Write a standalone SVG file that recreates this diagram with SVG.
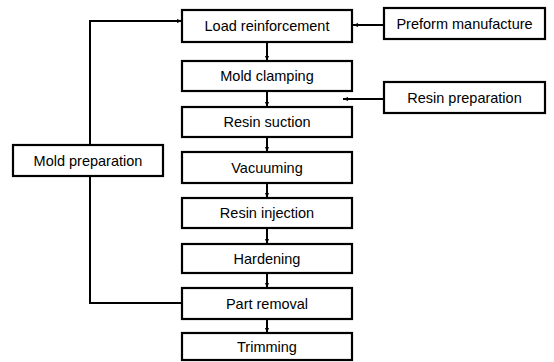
<svg xmlns="http://www.w3.org/2000/svg" width="554" height="362" viewBox="0 0 554 362">
<defs>
<marker id="ah" viewBox="0 0 10 10" refX="10" refY="5" markerWidth="5" markerHeight="5" orient="auto" markerUnits="userSpaceOnUse">
<path d="M0,1 L10,5 L0,9 Z" fill="#000"/>
</marker>
<style>
.box{fill:#fff;stroke:#000;stroke-width:2.2}
.lbl{font-family:"Liberation Sans",Arial,sans-serif;font-size:14.5px;fill:#000;text-anchor:middle;dominant-baseline:central}
.con{fill:none;stroke:#000;stroke-width:2}
</style>
</defs>
<rect width="554" height="362" fill="#fff"/>
<g id="connectors">
<path class="con" d="M267,42 V61" marker-end="url(#ah)"/>
<path class="con" d="M267,91 V107" marker-end="url(#ah)"/>
<path class="con" d="M267,137 V152" marker-end="url(#ah)"/>
<path class="con" d="M267,183 V198" marker-end="url(#ah)"/>
<path class="con" d="M267,228 V244" marker-end="url(#ah)"/>
<path class="con" d="M267,273 V288" marker-end="url(#ah)"/>
<path class="con" d="M267,319 V333" marker-end="url(#ah)"/>
<path class="con" d="M384,25 H353" marker-end="url(#ah)"/>
<path class="con" d="M384,99 H343" marker-end="url(#ah)"/>
<path class="con" d="M90,145 V21 H182" marker-end="url(#ah)"/>
<path class="con" d="M90,176 V303 H182"/>
</g>
<g id="load"><rect class="box" x="182" y="10" width="170" height="32"/><text class="lbl" x="267" y="26">Load reinforcement</text></g>
<g id="clamp"><rect class="box" x="182" y="61" width="170" height="30"/><text class="lbl" x="267" y="76">Mold clamping</text></g>
<g id="suction"><rect class="box" x="182" y="107" width="170" height="30"/><text class="lbl" x="267" y="122">Resin suction</text></g>
<g id="vacuum"><rect class="box" x="182" y="152" width="170" height="31"/><text class="lbl" x="267" y="168">Vacuuming</text></g>
<g id="injection"><rect class="box" x="182" y="198" width="170" height="30"/><text class="lbl" x="267" y="213">Resin injection</text></g>
<g id="harden"><rect class="box" x="182" y="244" width="170" height="29"/><text class="lbl" x="267" y="259">Hardening</text></g>
<g id="removal"><rect class="box" x="182" y="288" width="170" height="31"/><text class="lbl" x="267" y="304">Part removal</text></g>
<g id="trim"><rect class="box" x="182" y="333" width="170" height="27"/><text class="lbl" x="267" y="347">Trimming</text></g>
<g id="preform"><rect class="box" x="384" y="8" width="161" height="31"/><text class="lbl" x="464.5" y="24">Preform manufacture</text></g>
<g id="resinprep"><rect class="box" x="384" y="82" width="161" height="31"/><text class="lbl" x="464.5" y="98">Resin preparation</text></g>
<g id="moldprep"><rect class="box" x="13" y="145" width="150" height="31"/><text class="lbl" x="88" y="161">Mold preparation</text></g>
</svg>
